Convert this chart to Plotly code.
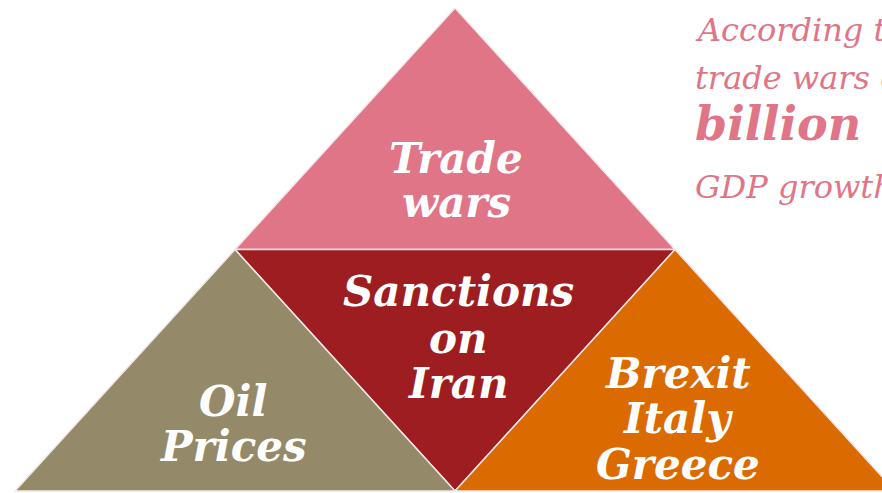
import plotly.graph_objects as go

# Pyramid outline (pixel space of the picture, y grows downward)
apex = (455, 8)
base_left = (15, 491)
base_right = (895, 491)

colors = ['#E07587', '#9E1D21', '#948969', '#DB6A00']

# one entry per text line inside the pyramid
label_lines = ['Trade', 'wars',
               'Sanctions', 'on', 'Iran',
               'Oil', 'Prices',
               'Brexit', 'Italy', 'Greece']
label_x = [456, 456,
           458, 458, 458,
           233, 233,
           678, 678, 678]
label_y = [158, 202,
           291, 338, 383,
           401, 446,
           373, 418, 464]

side_lines = ['According to', 'trade wars could', 'billion', 'GDP growth']
side_y = [30, 78, 124, 187]
side_size = [32, 32, 46, 32]
side_bold = [False, False, True, False]
side_color = '#E07587'


def mid(p, q):
    return ((p[0] + q[0]) / 2, (p[1] + q[1]) / 2)


m_left = mid(apex, base_left)
m_right = mid(apex, base_right)
m_base = mid(base_left, base_right)

triangles = [
    [apex, m_left, m_right],
    [m_left, m_right, m_base],
    [m_left, base_left, m_base],
    [m_right, m_base, base_right],
]

fig = go.Figure()

for tri, color in zip(triangles, colors):
    xs = [p[0] for p in tri] + [tri[0][0]]
    ys = [p[1] for p in tri] + [tri[0][1]]
    fig.add_trace(go.Scatter(
        x=xs, y=ys,
        mode='lines',
        fill='toself',
        fillcolor=color,
        line=dict(color='#F6E6E8', width=1.5),
        hoverinfo='skip',
        showlegend=False
    ))

for text, x, y in zip(label_lines, label_x, label_y):
    fig.add_annotation(
        x=x, y=y, text=text, showarrow=False,
        xanchor='center', yanchor='middle',
        font=dict(family='DejaVu Serif', size=42, color='white',
                  weight='bold', style='italic')
    )

for text, y, size, bold in zip(side_lines, side_y, side_size, side_bold):
    fig.add_annotation(
        x=693, y=y, text=text, showarrow=False,
        xanchor='left', yanchor='middle',
        font=dict(family='DejaVu Serif', size=size, color=side_color,
                  weight='bold' if bold else 'normal', style='italic')
    )

fig.update_layout(
    width=882,
    height=493,
    margin=dict(l=0, r=0, t=0, b=0),
    paper_bgcolor='white',
    plot_bgcolor='white',
    xaxis=dict(range=[0, 882], visible=False, fixedrange=True),
    yaxis=dict(range=[493, 0], visible=False, fixedrange=True),
    showlegend=False
)

fig.write_html("out.html", config={'displayModeBar': False},
               post_script="document.body.style.margin='0';document.body.style.overflow='hidden';")
